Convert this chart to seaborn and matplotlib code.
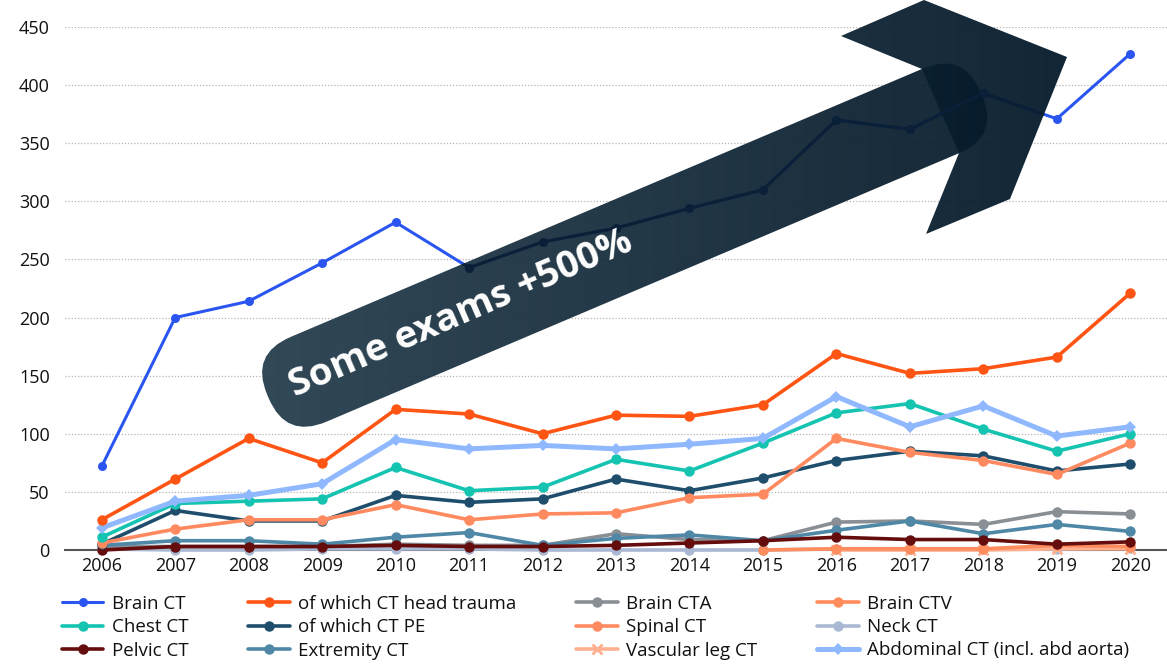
"""CT exam volumes 2006-2020 with 'Some exams +500%' arrow overlay."""

import numpy as np
import matplotlib
matplotlib.use("Agg")
import matplotlib.pyplot as plt
import matplotlib.transforms as mtransforms
from matplotlib.lines import Line2D
from matplotlib.patches import PathPatch, Rectangle
from matplotlib.path import Path
from matplotlib.colors import to_rgb
import seaborn as sns

YEARS = list(range(2006, 2021))

brain_ct = [72, 200, 214, 247, 282, 243, 265, 277, 294, 310, 370, 362, 393, 371, 427]
head_trauma = [26, 61, 96, 75, 121, 117, 100, 116, 115, 125, 169, 152, 156, 166, 221]
brain_cta = [3, 3, 3, 3, 5, 4, 4, 14, 9, 8, 24, 25, 22, 33, 31]
brain_ctv = [np.nan] * 9 + [0, 1, 1, 1, 4, 3]
chest_ct = [11, 40, 42, 44, 71, 51, 54, 78, 68, 92, 118, 126, 104, 85, 100]
ct_pe = [5, 34, 25, 25, 47, 41, 44, 61, 51, 62, 77, 85, 81, 68, 74]
spinal_ct = [6, 18, 26, 26, 39, 26, 31, 32, 45, 48, 96, 84, 77, 65, 92]
neck_ct = [1, 0, 0, 1, 1, 1, 0, 0, 0, 0, 1, 1, 1, 1, 2]
pelvic_ct = [0, 3, 3, 3, 4, 3, 3, 4, 6, 8, 11, 9, 9, 5, 7]
extremity_ct = [4, 8, 8, 5, 11, 15, 4, 10, 13, 8, 17, 25, 14, 22, 16]
vascular_leg_ct = [np.nan] * 10 + [0, 0, 0, 1, 1]
abdominal_ct = [19, 42, 47, 57, 95, 87, 90, 87, 91, 96, 132, 106, 124, 98, 106]

# name, values, color, marker, linewidth, markersize, zorder
SERIES = [
    ("Brain CT", brain_ct, "#2a55f0", "o", 2.2, 6.5, 2.5),
    ("of which CT head trauma", head_trauma, "#ff5514", "o", 2.6, 7.5, 4.6),
    ("Brain CTA", brain_cta, "#8a8e95", "o", 2.6, 7.5, 4.1),
    ("Brain CTV", brain_ctv, "#ff8c5c", "o", 2.6, 7.5, 4.0),
    ("Chest CT", chest_ct, "#15c3b1", "o", 2.6, 7.5, 4.4),
    ("of which CT PE", ct_pe, "#1f4e6d", "o", 2.6, 7.5, 4.3),
    ("Spinal CT", spinal_ct, "#ff8a60", "o", 2.6, 7.5, 4.35),
    ("Neck CT", neck_ct, "#a9b9d4", "o", 2.6, 7.5, 3.9),
    ("Pelvic CT", pelvic_ct, "#650d0d", "o", 2.6, 7.5, 4.25),
    ("Extremity CT", extremity_ct, "#4f88a7", "o", 2.6, 7.5, 4.2),
    ("Vascular leg CT", vascular_leg_ct, "#ffb090", "x", 2.6, 7.5, 3.95),
    ("Abdominal CT (incl. abd aorta)", abdominal_ct, "#8fb8ff", "D", 3.6, 6.5, 4.5),
]

W, H, DPI = 1167, 672, 100

sns.set_theme(style="white")
plt.rcParams["font.family"] = ["Open Sans", "DejaVu Sans"]

fig = plt.figure(figsize=(W / DPI, H / DPI), dpi=DPI)
ax = fig.add_axes([65 / W, 1 - 550 / H, 1 - 65 / W, (550 - 27) / H])

for name, vals, color, marker, lw, ms, z in SERIES:
    sns.lineplot(
        x=YEARS, y=vals, ax=ax, color=color, marker=marker, lw=lw,
        markersize=ms, markeredgewidth=2 if marker == "x" else 0,
        markeredgecolor=color, errorbar=None, legend=False,
        zorder=z, clip_on=False,
    )

ax.set_xlim(2005.5, 2020.5)
ax.set_ylim(0, 450)
ax.set_xticks(YEARS)
ax.set_yticks(range(0, 451, 50))
ax.set_xlabel("")
ax.set_ylabel("")
ax.yaxis.grid(True, linestyle=(0, (1, 1.5)), color="#b5b5b5", lw=0.9)
ax.xaxis.grid(False)
for side in ("left", "right", "top"):
    ax.spines[side].set_visible(False)
ax.spines["bottom"].set_color("#555555")
ax.spines["bottom"].set_linewidth(1.5)
ax.spines["bottom"].set_zorder(3.5)
ax.tick_params(axis="y", length=0, pad=11, labelsize=13, labelcolor="#111111")
ax.tick_params(axis="x", length=0, pad=5, labelsize=13, labelcolor="#111111")

# ---- arrow overlay, drawn in image pixel coords (y down) ----
px = mtransforms.Affine2D().scale(1 / DPI, -1 / DPI).translate(0, H / DPI) + fig.dpi_scale_trans

theta = np.deg2rad(23.0)
d = np.array([np.cos(theta), -np.sin(theta)])
n = np.array([np.sin(theta), np.cos(theta)])
U0 = np.array([250.0, 354.2])
shaft_len, shaft_w, rad = 775.0, 92.0, 44.0


def rounded_path(corners, r):
    verts, codes = [], []
    k = len(corners)
    for i in range(k):
        p = corners[i]
        a = corners[i - 1]
        b = corners[(i + 1) % k]
        ua = (a - p) / np.linalg.norm(a - p)
        ub = (b - p) / np.linalg.norm(b - p)
        verts += [p + r * ua, p, p + r * ub]
        codes += [Path.MOVETO if i == 0 else Path.LINETO, Path.CURVE3, Path.CURVE3]
    verts.append(verts[0])
    codes.append(Path.CLOSEPOLY)
    return Path(np.array(verts), codes)


shaft_corners = [U0, U0 + shaft_len * d, U0 + shaft_len * d + shaft_w * n, U0 + shaft_w * n]
shaft_path = rounded_path([np.asarray(c) for c in shaft_corners], rad)
head_path = Path(
    [(922, 69), (841, 36), (924, 0), (1067, 57), (1010, 199), (926, 234), (959, 153), (922, 69)],
    closed=True,
)

tail_rgb = np.array(to_rgb("#263e4d"))
head_rgb = np.array(to_rgb("#031727"))
for path, z in ((shaft_path, 3.0), (head_path, 3.05)):
    clip = PathPatch(path, transform=px, facecolor="none", edgecolor="none")
    x0, x1 = 220, 1076
    step = 4
    for xs in range(x0, x1, step):
        t = (xs - x0) / (x1 - x0)
        c = tail_rgb * (1 - t) + head_rgb * t
        r = Rectangle((xs, -20), step, 720, transform=px, facecolor=c,
                      edgecolor="none", alpha=0.94, zorder=z, antialiased=False)
        r.set_clip_path(clip)
        ax.add_patch(r)

# Brain CT seen through the arrow
arrow_area = Path.make_compound_path(shaft_path, head_path)
ghost, = ax.plot(YEARS, brain_ct, color="#0a1f38", lw=2.2, marker="o",
                 markersize=6.5, markeredgewidth=0, zorder=3.2)
ghost.set_clip_path(arrow_area, px)

centre = U0 + 46 * n + 210 * d
ax.text(centre[0], centre[1] - 1, "Some exams +500%", transform=px, rotation=23.5,
        rotation_mode="anchor", ha="center", va="center", color="white",
        fontsize=27.5, fontweight="bold", zorder=6)

# ---- legend, row-major like the reference ----
handles = []
for name, vals, color, marker, lw, ms, z in SERIES:
    handles.append(Line2D([], [], color=color, marker=marker, lw=lw, markersize=ms,
                          markeredgewidth=2 if marker == "x" else 0,
                          markeredgecolor=color, label=name))
ncol = 4
order = [r * ncol + c for c in range(ncol) for r in range(3)]
fig.legend(
    [handles[i] for i in order], [SERIES[i][0] for i in order],
    loc="upper left", bbox_to_anchor=(62 / W, 1 - 595 / H), ncol=ncol,
    frameon=False, fontsize=13.5, handlelength=2.2, handletextpad=0.45,
    columnspacing=3.2, labelspacing=0.28, borderpad=0, borderaxespad=0,
    labelcolor="#111111",
)

fig.savefig("out.png", dpi=DPI)
plt.close(fig)
